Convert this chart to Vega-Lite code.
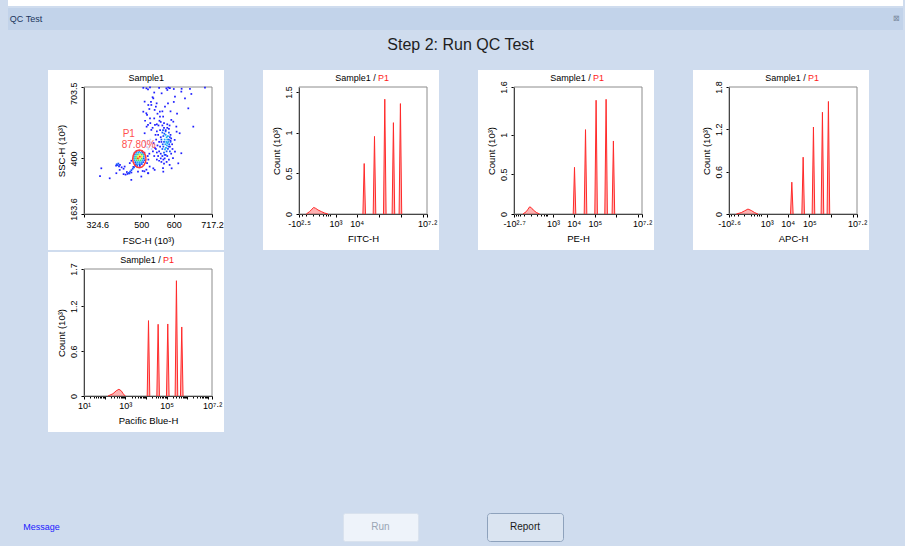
{
  "$schema": "https://vega.github.io/schema/vega-lite/v6.json",
  "background": "#cfdcee",
  "padding": {"left": 8, "top": 0, "right": 2, "bottom": 6},
  "spacing": 2,
  "config": {
    "view": {"stroke": null},
    "font": "Liberation Sans",
    "axis": {"labelFont": "Liberation Sans", "labelFontSize": 9, "labelColor": "#000000", "titleFont": "Liberation Sans", "titleFontSize": 9.5, "titleFontWeight": "normal", "titleColor": "#000000", "domainColor": "#000000", "tickColor": "#000000", "tickSize": 3, "grid": false, "zindex": 1},
    "text": {"font": "Liberation Sans"}
  },
  "vconcat": [
    {"width": 895, "height": 6, "view": {"fill": "#ffffff", "stroke": null}, "data": {"values": []}, "mark": "point"},
    {"hconcat": [
      {"width": 36, "height": 22, "view": {"fill": "#c2d3ea", "stroke": null}, "data": {"values": [{"t": "QC Test"}]}, "mark": {"type": "text", "fontSize": 9, "color": "#1b355c"}, "encoding": {"text": {"field": "t"}}},
      {"width": 846, "height": 22, "view": {"fill": "#c2d3ea", "stroke": null}, "data": {"values": []}, "mark": "point"},
      {"width": 13, "height": 22, "view": {"fill": "#c2d3ea", "stroke": null}, "data": {"values": [{"t": "⊠"}]}, "mark": {"type": "text", "fontSize": 8, "color": "#7a8aa0"}, "encoding": {"text": {"field": "t"}}}
    ], "spacing": 0, "bounds": "flush"},
    {"hconcat": [
      {"width": 10, "height": 36, "data": {"values": []}, "mark": "point"},
      {"width": 885, "height": 36, "data": {"values": [{"t": "Step 2: Run QC Test"}]}, "mark": {"type": "text", "fontSize": 16, "baseline": "alphabetic", "color": "#1e1e1e"}, "encoding": {"text": {"field": "t"}}}
    ], "spacing": 0, "bounds": "flush"},
    {"hconcat": [
      {"width": 1, "height": 180, "data": {"values": []}, "mark": "point"},
      {
        "width": 176, "height": 180,
        "view": {"fill": "#ffffff", "stroke": null},
        "resolve": {"axis": {"x": "independent", "y": "independent"}},
        "layer": [
          {"data": {"values": [{}]}, "mark": {"type": "rect", "filled": false, "color": "#8c8c8c", "strokeWidth": 1},
           "encoding": {"x": {"datum": 324.6, "type": "quantitative", "axis": null}, "x2": {"datum": 717.2}, "y": {"datum": 163.6, "type": "quantitative", "axis": null}, "y2": {"datum": 703.5}}},
          {"data": {"values": [
            {"f":486,"s":432,"d":1},{"f":494,"s":432,"d":1},{"f":502,"s":432,"d":0},
            {"f":480,"s":424,"d":1},{"f":486,"s":424,"d":2},{"f":492,"s":424,"d":2},{"f":498,"s":424,"d":2},{"f":504,"s":424,"d":1},{"f":510,"s":424,"d":0},
            {"f":478,"s":416,"d":1},{"f":484,"s":416,"d":2},{"f":490,"s":416,"d":3},{"f":496,"s":416,"d":4},{"f":502,"s":416,"d":3},{"f":508,"s":416,"d":2},
            {"f":478,"s":408,"d":2},{"f":484,"s":408,"d":3},{"f":490,"s":408,"d":4},{"f":496,"s":408,"d":5},{"f":502,"s":408,"d":4},{"f":508,"s":408,"d":2},
            {"f":478,"s":400,"d":2},{"f":484,"s":400,"d":3},{"f":490,"s":400,"d":5},{"f":496,"s":400,"d":4},{"f":502,"s":400,"d":3},{"f":508,"s":400,"d":1},
            {"f":480,"s":392,"d":2},{"f":486,"s":392,"d":3},{"f":492,"s":392,"d":3},{"f":498,"s":392,"d":3},{"f":504,"s":392,"d":2},{"f":510,"s":392,"d":1},
            {"f":482,"s":384,"d":1},{"f":488,"s":384,"d":2},{"f":494,"s":384,"d":2},{"f":500,"s":384,"d":2},{"f":506,"s":384,"d":1},
            {"f":484,"s":376,"d":1},{"f":490,"s":376,"d":2},{"f":496,"s":376,"d":1},{"f":502,"s":376,"d":1},
            {"f":482,"s":368,"d":1},{"f":488,"s":368,"d":1},{"f":496,"s":368,"d":0},
            {"f":478,"s":362,"d":1},{"f":474,"s":356,"d":1},{"f":470,"s":350,"d":1},{"f":466,"s":344,"d":1},{"f":462,"s":338,"d":1},{"f":458,"s":334,"d":0},{"f":452,"s":331,"d":0},{"f":446,"s":333,"d":0},{"f":456,"s":342,"d":0},{"f":464,"s":336,"d":0},{"f":470,"s":340,"d":0},{"f":476,"s":364,"d":0},
            {"f":425,"s":375,"d":1},{"f":430,"s":378,"d":1},{"f":435,"s":372,"d":0},{"f":423,"s":369,"d":0},{"f":432,"s":366,"d":0},{"f":428,"s":371,"d":1},{"f":440,"s":362,"d":0},{"f":446,"s":356,"d":0},
            {"f":373.7,"s":325,"d":0},{"f":403.4,"s":315.4,"d":0},{"f":377.7,"s":357.9,"d":0},
            {"f":575,"s":500,"d":2},{"f":578,"s":490,"d":2},{"f":580,"s":480,"d":2},{"f":577,"s":470,"d":2},{"f":574,"s":460,"d":2},{"f":579,"s":455,"d":2},{"f":576,"s":445,"d":2},{"f":573,"s":438,"d":2},{"f":582,"s":495,"d":2},{"f":583,"s":470,"d":2},{"f":572,"s":480,"d":2},{"f":580,"s":465,"d":2},
            {"f":565,"s":510,"d":1},{"f":568,"s":495,"d":1},{"f":570,"s":470,"d":1},{"f":568,"s":450,"d":1},{"f":565,"s":440,"d":1},{"f":585,"s":510,"d":1},{"f":588,"s":490,"d":1},{"f":586,"s":460,"d":1},{"f":582,"s":440,"d":1},{"f":578,"s":430,"d":1},{"f":570,"s":425,"d":1},{"f":585,"s":480,"d":1},{"f":590,"s":470,"d":1},{"f":575,"s":515,"d":1},{"f":571,"s":505,"d":1},{"f":584,"s":450,"d":1},{"f":566,"s":460,"d":1},{"f":562,"s":480,"d":1},{"f":572,"s":415,"d":1},{"f":567,"s":520,"d":1},{"f":588,"s":430,"d":1},
            {"f":560,"s":420,"d":0},{"f":565,"s":410,"d":0},{"f":572,"s":400,"d":0},{"f":580,"s":410,"d":0},{"f":555,"s":430,"d":0},{"f":558,"s":450,"d":0},{"f":562,"s":470,"d":0},{"f":560,"s":490,"d":0},{"f":585,"s":525,"d":0},{"f":580,"s":530,"d":0},{"f":575,"s":520,"d":0},{"f":590,"s":475,"d":0},{"f":588,"s":450,"d":0},{"f":575,"s":415,"d":0},{"f":568,"s":395,"d":0},{"f":560,"s":400,"d":0},{"f":552,"s":410,"d":0},{"f":548,"s":425,"d":0},{"f":545,"s":440,"d":0},{"f":555,"s":470,"d":0},{"f":550,"s":455,"d":0},{"f":590,"s":500,"d":0},{"f":592,"s":485,"d":0},{"f":570,"s":530,"d":0},{"f":565,"s":540,"d":0},{"f":558,"s":520,"d":0},{"f":552,"s":500,"d":0},{"f":562,"s":385,"d":0},{"f":570,"s":378,"d":0},{"f":555,"s":390,"d":0},{"f":548,"s":395,"d":0},{"f":540,"s":410,"d":0},{"f":536,"s":430,"d":0},{"f":542,"s":445,"d":0},{"f":538,"s":465,"d":0},{"f":546,"s":480,"d":0},{"f":595,"s":460,"d":0},{"f":596,"s":440,"d":0},{"f":592,"s":420,"d":0},{"f":585,"s":395,"d":0},{"f":578,"s":385,"d":0},{"f":544,"s":500,"d":0},{"f":548,"s":515,"d":0},{"f":560,"s":555,"d":0},{"f":570,"s":550,"d":0},{"f":580,"s":545,"d":0},{"f":553,"s":540,"d":0},{"f":587,"s":540,"d":0},
            {"f":510,"s":470,"d":-1},{"f":515,"s":460,"d":-1},{"f":520,"s":475,"d":-1},{"f":525,"s":455,"d":-1},{"f":530,"s":468,"d":-1},{"f":518,"s":448,"d":-1},{"f":535,"s":450,"d":-1},{"f":528,"s":480,"d":-1},{"f":512,"s":452,"d":-1},{"f":522,"s":440,"d":-1},{"f":532,"s":440,"d":-1},{"f":540,"s":460,"d":-1},
            {"f":520.9,"s":693.7,"d":0},{"f":577.1,"s":697.9,"d":0},{"f":580.2,"s":690.8,"d":0},{"f":623.1,"s":683.8,"d":0},{"f":653.8,"s":673.9,"d":0},{"f":510.6,"s":641.4,"d":0},{"f":531.1,"s":627.2,"d":0},{"f":541.3,"s":606,"d":0},{"f":515.8,"s":591.8,"d":0},{"f":557.2,"s":598.9,"d":0},{"f":567.4,"s":577.7,"d":0},{"f":520.9,"s":542.3,"d":0},{"f":531.1,"s":521.1,"d":0},{"f":510.6,"s":506.9,"d":0},{"f":582.2,"s":634.3,"d":0},{"f":592.4,"s":563.5,"d":0},{"f":607.8,"s":535.2,"d":0},{"f":618,"s":506.9,"d":0},{"f":602.7,"s":478.6,"d":0},{"f":623.1,"s":421.9,"d":0},{"f":597.5,"s":400.7,"d":0},{"f":587.3,"s":372.3,"d":0},{"f":566.9,"s":358.2,"d":0},{"f":541.3,"s":351.1,"d":0},{"f":526,"s":365.3,"d":0},{"f":520.9,"s":337,"d":0},{"f":500.4,"s":322.9,"d":0},{"f":469.7,"s":308.7,"d":0},{"f":490.2,"s":344.1,"d":0},{"f":434,"s":351.1,"d":0},{"f":449.3,"s":365.3,"d":0},{"f":423.8,"s":337,"d":0},
            {"f":506.5,"s":700,"d":0},{"f":527,"s":702,"d":0},{"f":583.2,"s":701,"d":0},{"f":624,"s":696,"d":0},{"f":649.6,"s":696,"d":0},{"f":695.6,"s":701,"d":0},{"f":516,"s":698,"d":0},{"f":588,"s":699,"d":0},
            {"f":659.8,"s":535,"d":0},{"f":644.5,"s":612.8,"d":0},{"f":634.3,"s":655.3,"d":0},{"f":603.6,"s":662.4,"d":0},{"f":537.2,"s":655.3,"d":0},{"f":562.7,"s":676.6,"d":0},{"f":547.4,"s":634.1,"d":0},{"f":521.8,"s":627,"d":0},{"f":506.5,"s":598.6,"d":0},{"f":527,"s":570.3,"d":0},{"f":557.6,"s":577.4,"d":0},{"f":542.3,"s":542,"d":0},{"f":516.7,"s":534.9,"d":0},{"f":598.5,"s":556.1,"d":0},{"f":608.7,"s":513.6,"d":0},{"f":603.6,"s":428.6,"d":0},{"f":613.8,"s":379,"d":0},{"f":593.4,"s":357.8,"d":0},{"f":567.8,"s":343.6,"d":0},{"f":537.2,"s":357.8,"d":0},{"f":521.8,"s":336.5,"d":0},{"f":504.5,"s":346.4,"d":0},{"f":516,"s":352,"d":0},{"f":510,"s":345,"d":0},
            {"f":512,"s":560,"d":0},{"f":518,"s":585,"d":0},{"f":525,"s":610,"d":0},{"f":530,"s":640,"d":0},{"f":535,"s":660,"d":0},{"f":545,"s":620,"d":0},{"f":550,"s":590,"d":0},{"f":540,"s":570,"d":0},{"f":528,"s":550,"d":0},{"f":535,"s":530,"d":0},{"f":548,"s":545,"d":0},{"f":556,"s":560,"d":0},{"f":565,"s":600,"d":0},{"f":573,"s":620,"d":0},{"f":590,"s":600,"d":0},{"f":600,"s":640,"d":0},{"f":610,"s":590,"d":0},{"f":540,"s":680,"d":0},{"f":555,"s":700,"d":0},{"f":600,"s":695,"d":0},{"f":470,"s":390,"d":0},{"f":465,"s":380,"d":0},{"f":518,"s":380,"d":0},{"f":522,"s":395,"d":0},{"f":520,"s":410,"d":0},{"f":525,"s":420,"d":0}
           ]},
           "mark": {"type": "square", "filled": true, "opacity": 1},
           "encoding": {
             "x": {"field": "f", "type": "quantitative", "scale": {"domain": [324.6, 717.2], "range": [36, 164], "nice": false, "zero": false},
                   "axis": {"orient": "bottom", "offset": -36, "values": [324.6, 500, 600, 717.2], "labelExpr": "'' + datum.value", "title": "FSC-H  (10³)", "labelFlush": false, "labelOverlap": false, "labelPadding": 3, "titlePadding": 6,
                            "labelAlign": {"condition": {"test": "datum.value == 324.6", "value": "left"}, "value": "center"},
                            "labelOffset": {"condition": {"test": "datum.value == 324.6", "value": 2}, "value": 0}}},
             "y": {"field": "s", "type": "quantitative", "scale": {"domain": [163.6, 703.5], "range": [144, 17], "nice": false, "zero": false},
                   "axis": {"orient": "left", "offset": -36, "values": [163.6, 400, 703.5], "labelAngle": 270, "labelExpr": "'' + datum.value", "title": "SSC-H (10³)", "labelFlush": false, "labelOverlap": false, "labelPadding": 3, "titlePadding": 3,
                            "labelAlign": {"condition": {"test": "datum.value == 703.5", "value": "right"}, "value": "center"},
                            "labelOffset": {"condition": {"test": "datum.value != 400", "value": -5}, "value": 0}}},
             "color": {"field": "d", "type": "ordinal", "scale": {"domain": [-1, 0, 1, 2, 3, 4, 5], "range": ["#c9d3ff", "#2020ff", "#1450ff", "#1aa8f5", "#40e070", "#f5f020", "#ff3a10"]}, "legend": null},
             "size": {"field": "d", "type": "ordinal", "scale": {"domain": [-1, 0, 1, 2, 3, 4, 5], "range": [3, 3, 8, 12, 15, 15, 15]}, "legend": null},
             "order": {"field": "d", "type": "quantitative"}
           }},
          {"data": {"values": [
            {"gx":514.7,"gy":398.2,"i":0},{"gx":513.1,"gy":412.6,"i":1},{"gx":508.7,"gy":424.7,"i":2},{"gx":502.1,"gy":432.8,"i":3},{"gx":494.3,"gy":435.7,"i":4},{"gx":486.5,"gy":432.8,"i":5},{"gx":479.9,"gy":424.7,"i":6},{"gx":475.5,"gy":412.6,"i":7},{"gx":473.9,"gy":398.2,"i":8},{"gx":475.5,"gy":383.8,"i":9},{"gx":479.9,"gy":371.7,"i":10},{"gx":486.5,"gy":363.6,"i":11},{"gx":494.3,"gy":360.7,"i":12},{"gx":502.1,"gy":363.6,"i":13},{"gx":508.7,"gy":371.7,"i":14},{"gx":513.1,"gy":383.8,"i":15},{"gx":514.7,"gy":398.2,"i":16}
           ]},
           "mark": {"type": "line", "color": "#ff3b3b", "strokeWidth": 1.5},
           "encoding": {"x": {"field": "gx", "type": "quantitative", "axis": null}, "y": {"field": "gy", "type": "quantitative", "axis": null}, "order": {"field": "i", "type": "quantitative"}}},
          {"data": {"values": [{}]}, "mark": {"type": "text", "align": "left", "baseline": "alphabetic", "fontSize": 10, "color": "#ff5050"},
           "encoding": {"x": {"datum": 443.1, "type": "quantitative", "axis": null}, "y": {"datum": 492.4, "type": "quantitative", "axis": null}, "text": {"value": "P1"}}},
          {"data": {"values": [{}]}, "mark": {"type": "text", "align": "left", "baseline": "alphabetic", "fontSize": 10, "color": "#ff5050"},
           "encoding": {"x": {"datum": 440.1, "type": "quantitative", "axis": null}, "y": {"datum": 445.6, "type": "quantitative", "axis": null}, "text": {"value": "87.80%"}}},
          {"data": {"values": [{}]}, "mark": {"type": "text", "align": "center", "baseline": "alphabetic", "fontSize": 9, "color": "#000000"},
           "encoding": {"x": {"datum": 515.7, "type": "quantitative", "axis": null}, "y": {"datum": 729, "type": "quantitative", "axis": null}, "text": {"value": "Sample1"}}}
        ]
      },
      {
        "width": 176, "height": 180,
        "view": {"fill": "#ffffff", "stroke": null},
        "resolve": {"axis": {"x": "independent", "y": "independent"}},
        "layer": [
          {"data": {"values": [{}]}, "mark": {"type": "rect", "filled": false, "color": "#8c8c8c", "strokeWidth": 1},
           "encoding": {"x": {"datum": -316.2, "type": "quantitative", "axis": null}, "x2": {"datum": 15848932}, "y": {"datum": 0, "type": "quantitative", "axis": null}, "y2": {"datum": 1.56}}},
          {"data": {"values": [
            {"x":-93.6,"y":0,"g":"b"},{"x":-36.6,"y":0.03,"g":"b"},{"x":-7,"y":0.06,"g":"b"},{"x":11.2,"y":0.08,"g":"b"},{"x":36.9,"y":0.07,"g":"b"},{"x":74.8,"y":0.05,"g":"b"},{"x":147.4,"y":0.03,"g":"b"},{"x":250.6,"y":0.012,"g":"b"},{"x":396,"y":0,"g":"b"},
            {"x":19220,"y":0,"g":"p1"},{"x":22030,"y":0.62,"g":"p1"},{"x":25250,"y":0,"g":"p1"},
            {"x":56630,"y":0,"g":"p2"},{"x":64900,"y":0.953,"g":"p2"},{"x":74380,"y":0,"g":"p2"},
            {"x":166580,"y":0,"g":"p3"},{"x":190900,"y":1.41,"g":"p3"},{"x":218770,"y":0,"g":"p3"},
            {"x":411000,"y":0,"g":"p4"},{"x":471000,"y":1.122,"g":"p4"},{"x":539800,"y":0,"g":"p4"},
            {"x":854700,"y":0,"g":"p5"},{"x":979500,"y":1.356,"g":"p5"},{"x":1122500,"y":0,"g":"p5"}
           ]},
           "mark": {"type": "area", "color": "#ff0000", "fillOpacity": 0.3, "line": {"color": "#ff2a2a", "strokeWidth": 1}},
           "encoding": {
             "x": {"field": "x", "type": "quantitative", "scale": {"type": "symlog", "constant": 100, "domain": [-316.2, 15848932], "range": [36, 164], "nice": false, "zero": false},
                   "axis": {"orient": "bottom", "offset": -36, "values": [-316.2, -200, -100, 0, 100, 200, 300, 400, 500, 1000, 10000, 100000, 1000000, 10000000, 15848932],
                            "labelExpr": "datum.value == -316.2 ? '-10²·⁵' : datum.value == 1000 ? '10³' : datum.value == 10000 ? '10⁴' : datum.value == 15848932 ? '10⁷·²' : ''",
                            "tickSize": {"condition": {"test": "abs(datum.value) < 600 && datum.value != -316.2", "value": 2}, "value": 3},
                            "title": "FITC-H", "labelFlush": false, "labelOverlap": false, "labelPadding": 2, "titlePadding": 5}},
             "y": {"field": "y", "type": "quantitative", "stack": null, "scale": {"domain": [0, 1.56], "range": [144, 17], "nice": false},
                   "axis": {"orient": "left", "offset": -36, "values": [0, 0.5, 1, 1.5], "labelAngle": 270, "labelExpr": "'' + datum.value", "title": "Count (10³)", "labelFlush": false, "labelOverlap": false, "labelPadding": 3, "titlePadding": 3}},
             "detail": {"field": "g"}
           }},
          {"data": {"values": [{}]}, "mark": {"type": "text", "align": "right", "baseline": "alphabetic", "fontSize": 9, "color": "#000000"},
           "encoding": {"x": {"datum": 73650, "type": "quantitative", "axis": null}, "y": {"datum": 1.634, "type": "quantitative", "axis": null}, "text": {"value": "Sample1 /"}}},
          {"data": {"values": [{}]}, "mark": {"type": "text", "align": "left", "baseline": "alphabetic", "fontSize": 9, "color": "#ff2020"},
           "encoding": {"x": {"datum": 93670, "type": "quantitative", "axis": null}, "y": {"datum": 1.634, "type": "quantitative", "axis": null}, "text": {"value": "P1"}}}
        ]
      },
      {
        "width": 176, "height": 180,
        "view": {"fill": "#ffffff", "stroke": null},
        "resolve": {"axis": {"x": "independent", "y": "independent"}},
        "layer": [
          {"data": {"values": [{}]}, "mark": {"type": "rect", "filled": false, "color": "#8c8c8c", "strokeWidth": 1},
           "encoding": {"x": {"datum": -501.2, "type": "quantitative", "axis": null}, "x2": {"datum": 15848932}, "y": {"datum": 0, "type": "quantitative", "axis": null}, "y2": {"datum": 1.6}}},
          {"data": {"values": [
            {"x":-128.8,"y":0,"g":"b"},{"x":-60.2,"y":0.03,"g":"b"},{"x":-34,"y":0.06,"g":"b"},{"x":-11.9,"y":0.09,"g":"b"},{"x":6.8,"y":0.08,"g":"b"},{"x":32.3,"y":0.05,"g":"b"},{"x":82.5,"y":0.02,"g":"b"},{"x":161.1,"y":0,"g":"b"},
            {"x":9610,"y":0,"g":"p1"},{"x":11040,"y":0.588,"g":"p1"},{"x":12700,"y":0,"g":"p1"},
            {"x":31560,"y":0,"g":"p2"},{"x":36290,"y":1.063,"g":"p2"},{"x":41730,"y":0,"g":"p2"},
            {"x":98830,"y":0,"g":"p3"},{"x":113660,"y":1.433,"g":"p3"},{"x":130710,"y":0,"g":"p3"},
            {"x":289800,"y":0,"g":"p4"},{"x":333300,"y":1.445,"g":"p4"},{"x":383300,"y":0,"g":"p4"},
            {"x":635700,"y":0,"g":"p5"},{"x":731000,"y":0.92,"g":"p5"},{"x":840700,"y":0,"g":"p5"}
           ]},
           "mark": {"type": "area", "color": "#ff0000", "fillOpacity": 0.3, "line": {"color": "#ff2a2a", "strokeWidth": 1}},
           "encoding": {
             "x": {"field": "x", "type": "quantitative", "scale": {"type": "symlog", "constant": 100, "domain": [-501.2, 15848932], "range": [36, 164], "nice": false, "zero": false},
                   "axis": {"orient": "bottom", "offset": -36, "values": [-501.2, -400, -300, -200, -100, 0, 100, 200, 300, 400, 500, 1000, 10000, 100000, 1000000, 10000000, 15848932],
                            "labelExpr": "datum.value == -501.2 ? '-10²·⁷' : datum.value == 1000 ? '10³' : datum.value == 10000 ? '10⁴' : datum.value == 100000 ? '10⁵' : datum.value == 15848932 ? '10⁷·²' : ''",
                            "tickSize": {"condition": {"test": "abs(datum.value) < 600 && datum.value != -501.2", "value": 2}, "value": 3},
                            "title": "PE-H", "labelFlush": false, "labelOverlap": false, "labelPadding": 2, "titlePadding": 5}},
             "y": {"field": "y", "type": "quantitative", "stack": null, "scale": {"domain": [0, 1.6], "range": [144, 17], "nice": false},
                   "axis": {"orient": "left", "offset": -36, "values": [0, 0.5, 1, 1.6], "labelAngle": 270, "labelExpr": "'' + datum.value", "title": "Count (10³)", "labelFlush": false, "labelOverlap": false, "labelPadding": 3, "titlePadding": 3}},
             "detail": {"field": "g"}
           }},
          {"data": {"values": [{}]}, "mark": {"type": "text", "align": "right", "baseline": "alphabetic", "fontSize": 9, "color": "#000000"},
           "encoding": {"x": {"datum": 63540, "type": "quantitative", "axis": null}, "y": {"datum": 1.6756, "type": "quantitative", "axis": null}, "text": {"value": "Sample1 /"}}},
          {"data": {"values": [{}]}, "mark": {"type": "text", "align": "left", "baseline": "alphabetic", "fontSize": 9, "color": "#ff2020"},
           "encoding": {"x": {"datum": 81370, "type": "quantitative", "axis": null}, "y": {"datum": 1.6756, "type": "quantitative", "axis": null}, "text": {"value": "P1"}}}
        ]
      },
      {
        "width": 176, "height": 180,
        "view": {"fill": "#ffffff", "stroke": null},
        "resolve": {"axis": {"x": "independent", "y": "independent"}},
        "layer": [
          {"data": {"values": [{}]}, "mark": {"type": "rect", "filled": false, "color": "#8c8c8c", "strokeWidth": 1},
           "encoding": {"x": {"datum": -398.1, "type": "quantitative", "axis": null}, "x2": {"datum": 15848932}, "y": {"datum": 0, "type": "quantitative", "axis": null}, "y2": {"datum": 1.8}}},
          {"data": {"values": [
            {"x":-129.2,"y":0,"g":"b"},{"x":-35,"y":0.02,"g":"b"},{"x":5.5,"y":0.045,"g":"b"},{"x":50,"y":0.07,"g":"b"},{"x":113.3,"y":0.05,"g":"b"},{"x":203.6,"y":0.02,"g":"b"},{"x":331.8,"y":0,"g":"b"},
            {"x":13620,"y":0,"g":"p1"},{"x":15640,"y":0.451,"g":"p1"},{"x":17960,"y":0,"g":"p1"},
            {"x":45520,"y":0,"g":"p2"},{"x":52260,"y":0.805,"g":"p2"},{"x":60000,"y":0,"g":"p2"},
            {"x":135800,"y":0,"g":"p3"},{"x":155900,"y":1.233,"g":"p3"},{"x":179000,"y":0,"g":"p3"},
            {"x":352300,"y":0,"g":"p4"},{"x":404500,"y":1.442,"g":"p4"},{"x":464400,"y":0,"g":"p4"},
            {"x":665200,"y":0,"g":"p5"},{"x":763700,"y":1.595,"g":"p5"},{"x":876800,"y":0,"g":"p5"}
           ]},
           "mark": {"type": "area", "color": "#ff0000", "fillOpacity": 0.3, "line": {"color": "#ff2a2a", "strokeWidth": 1}},
           "encoding": {
             "x": {"field": "x", "type": "quantitative", "scale": {"type": "symlog", "constant": 100, "domain": [-398.1, 15848932], "range": [36, 164], "nice": false, "zero": false},
                   "axis": {"orient": "bottom", "offset": -36, "values": [-398.1, -300, -200, -100, 0, 100, 200, 300, 400, 500, 1000, 10000, 100000, 1000000, 10000000, 15848932],
                            "labelExpr": "datum.value == -398.1 ? '-10²·⁶' : datum.value == 1000 ? '10³' : datum.value == 10000 ? '10⁴' : datum.value == 100000 ? '10⁵' : datum.value == 15848932 ? '10⁷·²' : ''",
                            "tickSize": {"condition": {"test": "abs(datum.value) < 600 && datum.value != -398.1", "value": 2}, "value": 3},
                            "title": "APC-H", "labelFlush": false, "labelOverlap": false, "labelPadding": 2, "titlePadding": 5}},
             "y": {"field": "y", "type": "quantitative", "stack": null, "scale": {"domain": [0, 1.8], "range": [144, 17], "nice": false},
                   "axis": {"orient": "left", "offset": -36, "values": [0, 0.6, 1.2, 1.8], "labelAngle": 270, "labelExpr": "'' + datum.value", "title": "Count (10³)", "labelFlush": false, "labelOverlap": false, "labelPadding": 3, "titlePadding": 3}},
             "detail": {"field": "g"}
           }},
          {"data": {"values": [{}]}, "mark": {"type": "text", "align": "right", "baseline": "alphabetic", "fontSize": 9, "color": "#000000"},
           "encoding": {"x": {"datum": 68550, "type": "quantitative", "axis": null}, "y": {"datum": 1.885, "type": "quantitative", "axis": null}, "text": {"value": "Sample1 /"}}},
          {"data": {"values": [{}]}, "mark": {"type": "text", "align": "left", "baseline": "alphabetic", "fontSize": 9, "color": "#ff2020"},
           "encoding": {"x": {"datum": 87480, "type": "quantitative", "axis": null}, "y": {"datum": 1.885, "type": "quantitative", "axis": null}, "text": {"value": "P1"}}}
        ]
      }
    ], "spacing": 39, "bounds": "flush"},
    {"hconcat": [
      {"width": 1, "height": 180, "data": {"values": []}, "mark": "point"},
      {
        "width": 176, "height": 180,
        "view": {"fill": "#ffffff", "stroke": null},
        "resolve": {"axis": {"x": "independent", "y": "independent"}},
        "layer": [
          {"data": {"values": [{}]}, "mark": {"type": "rect", "filled": false, "color": "#8c8c8c", "strokeWidth": 1},
           "encoding": {"x": {"datum": 10, "type": "quantitative", "axis": null}, "x2": {"datum": 15848932}, "y": {"datum": 0, "type": "quantitative", "axis": null}, "y2": {"datum": 1.7}}},
          {"data": {"values": [
            {"x":144.5,"y":0,"g":"b"},{"x":251.8,"y":0.03,"g":"b"},{"x":364.8,"y":0.07,"g":"b"},{"x":490.6,"y":0.09,"g":"b"},{"x":635.8,"y":0.07,"g":"b"},{"x":794,"y":0.03,"g":"b"},{"x":992.6,"y":0,"g":"b"},
            {"x":11500,"y":0,"g":"p1"},{"x":13300,"y":1.009,"g":"p1"},{"x":15380,"y":0,"g":"p1"},
            {"x":33740,"y":0,"g":"p2"},{"x":39000,"y":0.96,"g":"p2"},{"x":45080,"y":0,"g":"p2"},
            {"x":98880,"y":0,"g":"p3"},{"x":114300,"y":0.964,"g":"p3"},{"x":132130,"y":0,"g":"p3"},
            {"x":259400,"y":0,"g":"p4"},{"x":299900,"y":1.543,"g":"p4"},{"x":346700,"y":0,"g":"p4"},
            {"x":470000,"y":0,"g":"p5"},{"x":543300,"y":0.924,"g":"p5"},{"x":628000,"y":0,"g":"p5"}
           ]},
           "mark": {"type": "area", "color": "#ff0000", "fillOpacity": 0.3, "line": {"color": "#ff2a2a", "strokeWidth": 1}},
           "encoding": {
             "x": {"field": "x", "type": "quantitative", "scale": {"type": "log", "domain": [10, 15848932], "range": [36, 164], "nice": false},
                   "axis": {"orient": "bottom", "offset": -36,
                            "values": [10, 20, 30, 40, 50, 60, 70, 80, 90, 100, 200, 300, 400, 500, 600, 700, 800, 900, 1000, 2000, 3000, 4000, 5000, 6000, 7000, 8000, 9000, 10000, 20000, 30000, 40000, 50000, 60000, 70000, 80000, 90000, 100000, 200000, 300000, 400000, 500000, 600000, 700000, 800000, 900000, 1000000, 2000000, 3000000, 4000000, 5000000, 6000000, 7000000, 8000000, 9000000, 10000000, 15848932],
                            "labelExpr": "datum.value == 10 ? '10¹' : datum.value == 1000 ? '10³' : datum.value == 100000 ? '10⁵' : datum.value == 15848932 ? '10⁷·²' : ''",
                            "tickSize": {"condition": {"test": "indexof([10, 100, 1000, 10000, 100000, 1000000, 10000000, 15848932], datum.value) >= 0", "value": 3}, "value": 2},
                            "title": "Pacific Blue-H", "labelFlush": false, "labelOverlap": false, "labelPadding": 2, "titlePadding": 5}},
             "y": {"field": "y", "type": "quantitative", "stack": null, "scale": {"domain": [0, 1.7], "range": [144, 17], "nice": false},
                   "axis": {"orient": "left", "offset": -36, "values": [0, 0.6, 1.2, 1.7], "labelAngle": 270, "labelExpr": "'' + datum.value", "title": "Count (10³)", "labelFlush": false, "labelOverlap": false, "labelPadding": 3, "titlePadding": 3}},
             "detail": {"field": "g"}
           }},
          {"data": {"values": [{}]}, "mark": {"type": "text", "align": "right", "baseline": "alphabetic", "fontSize": 9, "color": "#000000"},
           "encoding": {"x": {"datum": 51930, "type": "quantitative", "axis": null}, "y": {"datum": 1.78, "type": "quantitative", "axis": null}, "text": {"value": "Sample1 /"}}},
          {"data": {"values": [{}]}, "mark": {"type": "text", "align": "left", "baseline": "alphabetic", "fontSize": 9, "color": "#ff2020"},
           "encoding": {"x": {"datum": 67110, "type": "quantitative", "axis": null}, "y": {"datum": 1.78, "type": "quantitative", "axis": null}, "text": {"value": "P1"}}}
        ]
      }
    ], "spacing": 39, "bounds": "flush"},
    {"width": 895, "height": 76, "data": {"values": []}, "mark": "point"},
    {"hconcat": [
      {"width": 67, "height": 28, "data": {"values": [{"t": "Message"}]}, "mark": {"type": "text", "fontSize": 9, "color": "#1a1aff"}, "encoding": {"text": {"field": "t"}}},
      {"width": 130, "height": 28, "data": {"values": []}, "mark": "point"},
      {"width": 75, "height": 28, "view": {"fill": "#eef3fa", "stroke": "#d9e2ee", "cornerRadius": 2}, "data": {"values": [{"t": "Run"}]}, "mark": {"type": "text", "fontSize": 10, "color": "#9aa5b4"}, "encoding": {"text": {"field": "t"}}},
      {"width": 76, "height": 28, "view": {"fill": "#dae4f1", "stroke": "#8ea2bc", "cornerRadius": 3}, "data": {"values": [{"t": "Report"}]}, "mark": {"type": "text", "fontSize": 10, "color": "#1a1a1a"}, "encoding": {"text": {"field": "t"}}}
    ], "spacing": 69, "bounds": "flush"}
  ]
}
